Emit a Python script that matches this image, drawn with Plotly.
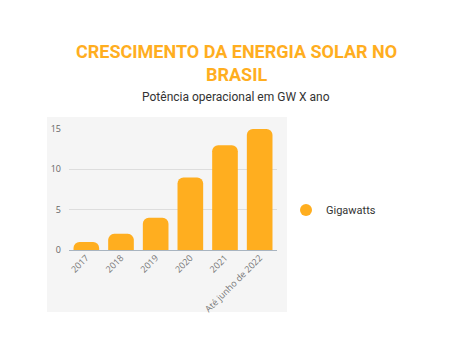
import plotly.graph_objects as go

categories = ["2017", "2018", "2019", "2020", "2021", "Até junho de 2022"]
gigawatts = [1, 2, 4, 9, 13, 15]
series_name = "Gigawatts"
title_text = "CRESCIMENTO DA ENERGIA SOLAR NO<br>BRASIL"
subtitle_text = "Potência operacional em GW X ano"
y_ticks = [0, 5, 10, 15]

ORANGE = "#FFAE1F"

fig = go.Figure()
fig.add_trace(go.Bar(
    x=categories, y=gigawatts, name=series_name,
    marker=dict(color=ORANGE, cornerradius=6, line=dict(width=0)),
    showlegend=False, hoverinfo="x+y",
))
fig.add_trace(go.Scatter(
    x=[None], y=[None], mode="markers", name=series_name,
    marker=dict(color=ORANGE, size=12, symbol="circle"),
    showlegend=True,
))

W, H = 474, 355
L, R, T, B = 69, 197, 129, 105
pw = W - L - R
ph = H - T - B

def px2paperx(px):
    return (px - L) / pw

def py2papery(py):
    return (H - B - py) / ph

fig.add_shape(type="rect", xref="paper", yref="paper",
              x0=px2paperx(47), x1=px2paperx(287),
              y0=py2papery(312), y1=py2papery(117),
              fillcolor="#F5F5F5", line=dict(width=0), layer="below")

fig.add_annotation(text="<b>" + title_text + "</b>", xref="paper", yref="paper",
                   x=px2paperx(236), y=py2papery(63), xanchor="center", yanchor="middle",
                   showarrow=False, font=dict(family="Roboto", size=18, color=ORANGE))
fig.add_annotation(text=subtitle_text, xref="paper", yref="paper",
                   x=px2paperx(236), y=py2papery(97), xanchor="center", yanchor="middle",
                   showarrow=False, font=dict(family="Roboto", size=12, color="#333333"))

fig.update_layout(
    width=W, height=H,
    margin=dict(l=L, r=R, t=T, b=B, pad=0, autoexpand=False),
    paper_bgcolor="white", plot_bgcolor="rgba(0,0,0,0)",
    bargap=0.26,
    font=dict(family="Open Sans", size=9, color="#666666"),
    legend=dict(x=px2paperx(286), y=py2papery(210), xanchor="left", yanchor="middle",
                font=dict(family="Roboto", size=11, color="#333333"),
                bgcolor="rgba(0,0,0,0)", itemwidth=30),
    xaxis=dict(tickangle=-45, showgrid=False, showline=False, ticks="",
               tickfont=dict(size=9, color="#777777")),
    yaxis=dict(range=[0, 15], tickvals=y_ticks, showgrid=True, gridcolor="#DDDDDD",
               zeroline=True, zerolinecolor="#A8B4C0", zerolinewidth=1,
               showline=False, ticks="", ticklabelstandoff=7,
               tickfont=dict(size=9, color="#666666")),
)

fig.write_html("out.html", config={"displayModeBar": False},
               post_script="document.body.style.margin='0';")
